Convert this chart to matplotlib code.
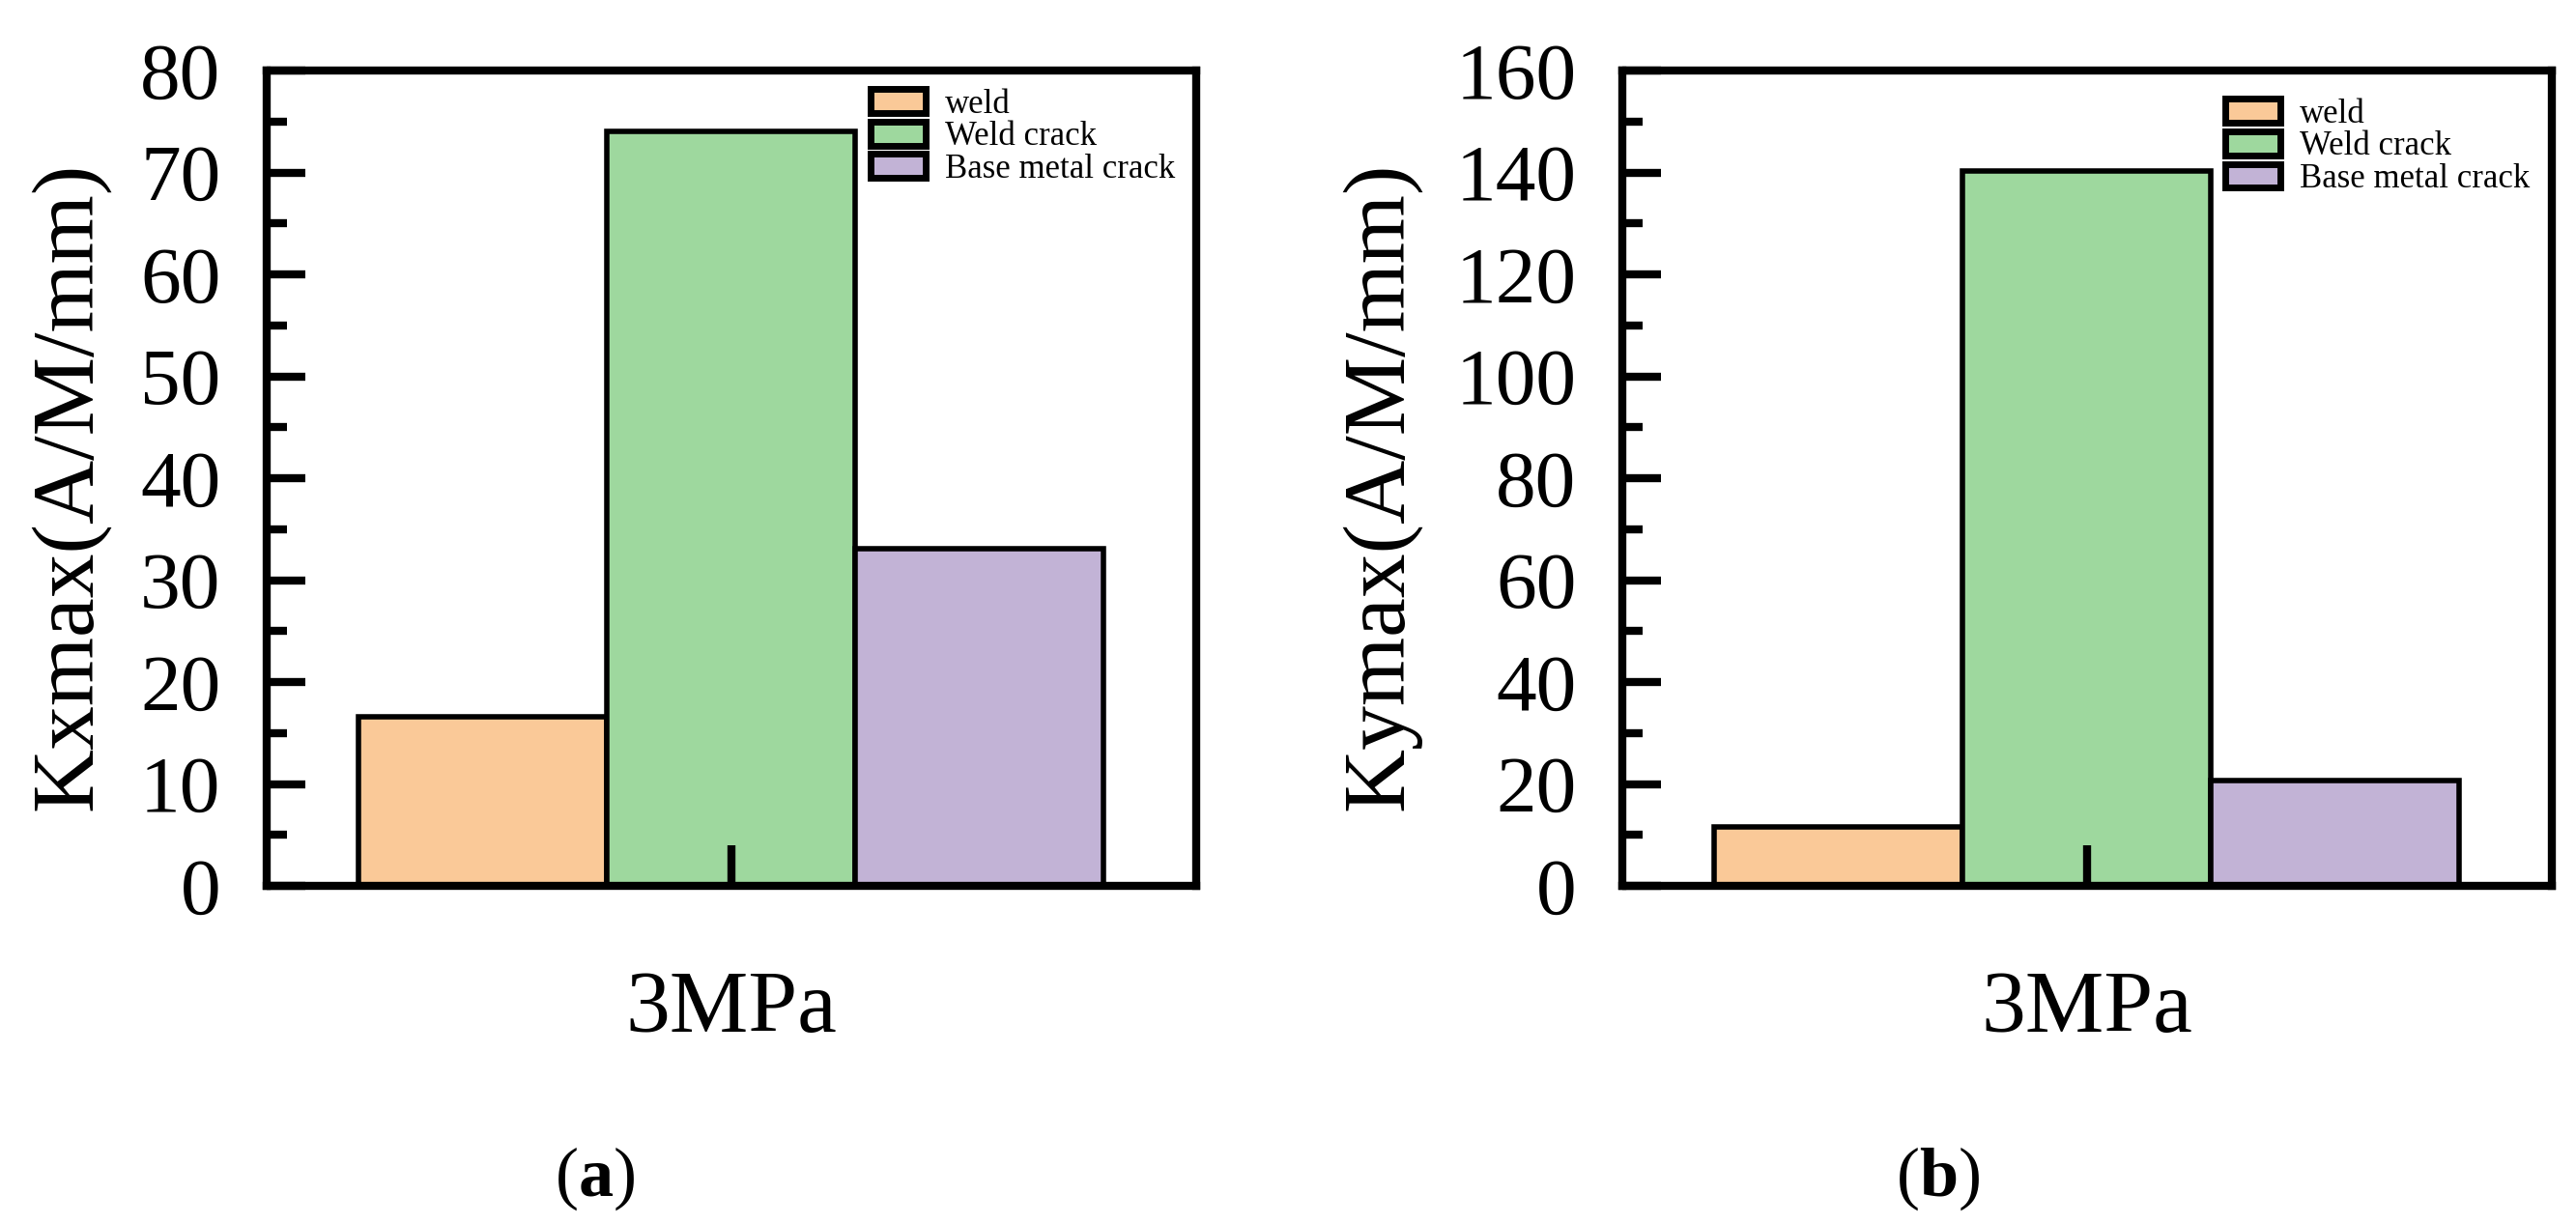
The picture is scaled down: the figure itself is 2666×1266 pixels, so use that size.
import matplotlib
matplotlib.use("Agg")
import matplotlib.pyplot as plt
from matplotlib.ticker import MultipleLocator

plt.rcParams['font.family'] = ['Liberation Serif', 'DejaVu Serif']
plt.rcParams['mathtext.fontset'] = 'custom'
plt.rcParams['mathtext.bf'] = 'Liberation Serif:bold'
plt.rcParams['mathtext.rm'] = 'Liberation Serif'

series = ['weld', 'Weld crack', 'Base metal crack']
colors = ['#FAC998', '#9ED89E', '#C2B3D6']
category = ['3MPa']

kx_values = [16.6, 74.0, 33.1]  # Kxmax, panel (a)
ky_values = [11.6, 140.3, 20.7]  # Kymax, panel (b)

fig = plt.figure(figsize=(26.66, 12.66), dpi=100)

ax_w = 962.5 / 2666
ax_h = 844 / 1266
ax_y0 = (1266 - 917) / 1266
ax1 = fig.add_axes([275.5 / 2666, ax_y0, ax_w, ax_h])
ax2 = fig.add_axes([1678.5 / 2666, ax_y0, ax_w, ax_h])

panels = [
    (ax1, kx_values, 'Kxmax(A/M/mm)', 80, 10, 5, -0.168, 0.650, 0.978, r'($\mathbf{a}$)', 616),
    (ax2, ky_values, 'Kymax(A/M/mm)', 160, 20, 10, -0.216, 0.649, 0.966, r'($\mathbf{b}$)', 2006),
]

for ax, vals, ylab, ymax, major, minor, lab_x, leg_x, leg_y, tag, tag_x in panels:
    for i in range(len(series)):
        ax.bar(i - 1, vals[i], width=1.0, color=colors[i], edgecolor='black',
               linewidth=4, label=series[i])
    ax.set_xlim(-1.873, 1.872)
    ax.set_ylim(0, ymax)
    ax.set_xticks([0])
    ax.set_xticklabels(category)
    ax.yaxis.set_major_locator(MultipleLocator(major))
    ax.yaxis.set_minor_locator(MultipleLocator(minor))
    for s in ax.spines.values():
        s.set_linewidth(6)
    ax.tick_params(axis='y', which='major', direction='in', length=29, width=6,
                   labelsize=60, pad=34, right=False)
    ax.tick_params(axis='y', which='minor', direction='in', length=15, width=6,
                   right=False)
    ax.tick_params(axis='x', which='major', direction='in', length=30, width=6,
                   labelsize=66, pad=63, top=False)
    ax.set_ylabel(ylab, fontsize=66)
    ax.yaxis.set_label_coords(lab_x, 0.49)

    leg = ax.legend(loc='upper left', bbox_to_anchor=(leg_x, leg_y), frameon=False,
                    fontsize=25, borderpad=0, borderaxespad=0, labelspacing=0.02,
                    handlelength=1.65, handleheight=0.72, handletextpad=0.55)
    for p in leg.get_patches():
        p.set_linewidth(5)

    fig.text(tag_x / 2666, (1266 - 1220) / 1266, tag, fontsize=52, ha='center', va='center')

fig.savefig('out.png', dpi=100)
